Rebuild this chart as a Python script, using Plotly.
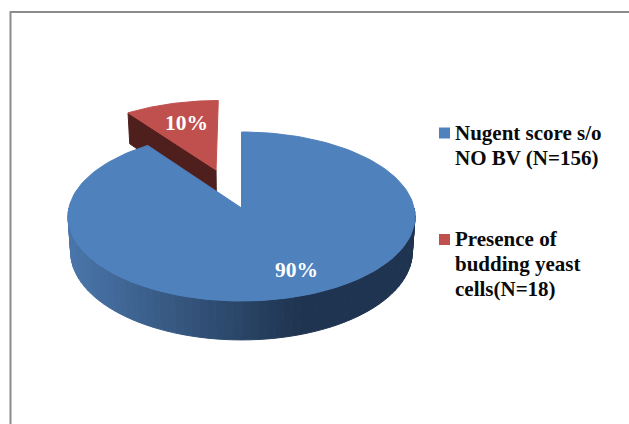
import numpy as np
import plotly.graph_objects as go

label_lines = [["Nugent score s/o", "NO BV (N=156)"], ["Presence of", "budding yeast", "cells(N=18)"]]
values = [90, 10]
pct_text = ["90%", "10%"]

BLUE = "#4F81BD"
RED = "#C0504D"
RED_DARK = "#4F1F1D"
FONT = "Liberation Serif"

# pie geometry, in pixels of the 629x424 page
CX, CY = 241.5, 208
A, B, K = 172.6, 83.65, 0.1006
DEPTH = 35
EXPLODE = 0.5


# perspective projection of the unit disc
def project(u, v, bottom=False):
    d = 1 + K * v
    x = CX + A * u / d * (0.985 if bottom else 1)
    y = CY - B * v / d + (DEPTH / d if bottom else 0)
    return x, y


def wall_colour(x):
    # side of the blue slice gets darker to the right
    t = np.clip((x - 70) / 230, 0, 1)
    c0, c1 = np.array([74, 118, 170]), np.array([31, 52, 80])
    r, g, b = (c0 + (c1 - c0) * t).astype(int)
    return f"rgb({r},{g},{b})"


def poly(xs, ys, colour):
    return go.Scatter(x=xs, y=ys, mode="lines", fill="toself", fillcolor=colour,
                      line=dict(color=colour, width=1), hoverinfo="skip", showlegend=False)


total = sum(values)
blue_end = 2 * np.pi * values[0] / total  # clockwise from 12 o'clock
blue_t = np.linspace(0, blue_end, 160)
blue_u, blue_v = np.sin(blue_t), np.cos(blue_t)

red_t = np.linspace(blue_end, 2 * np.pi, 40)
red_mid = (blue_end + 2 * np.pi) / 2
off_u, off_v = EXPLODE * np.sin(red_mid), EXPLODE * np.cos(red_mid)
red_u, red_v = off_u + np.sin(red_t), off_v + np.cos(red_t)

fig = go.Figure()

# red slice: cut face, outer corner, then top
tx, ty = project(red_u[0], red_v[0])
bx, by = project(red_u[0], red_v[0], bottom=True)
ax, ay = project(off_u, off_v)
cx, cy = project(off_u, off_v, bottom=True)
fig.add_trace(poly([tx, ax, cx, bx, tx], [ty, ay, cy, by, ty], RED_DARK))
rx, ry = project(red_u, red_v)
fig.add_trace(poly([ax, *rx, ax], [ay, *ry, ay], RED))

# blue slice: front wall as thin strips, then top
front_t = np.linspace(np.pi / 2, 3 * np.pi / 2, 71)
for t0, t1 in zip(front_t[:-1], front_t[1:]):
    ts = np.linspace(t0, t1, 4)
    x0, y0 = project(np.sin(ts), np.cos(ts))
    x1, y1 = project(np.sin(ts), np.cos(ts), bottom=True)
    fig.add_trace(poly([*x0, *x1[::-1], x0[0]], [*y0, *y1[::-1], y0[0]], wall_colour(x0.mean())))
bx, by = project(blue_u, blue_v)
fig.add_trace(poly([CX, *bx, CX], [CY, *by, CY], BLUE))

# legend squares
fig.add_trace(go.Scatter(x=[444.5, 444.5], y=[133, 239.5], mode="markers", hoverinfo="skip", showlegend=False,
                         marker=dict(symbol="square", size=11, color=[BLUE, RED])))

annotations = []
for lines, y_start in zip(label_lines, [133, 239]):
    for i, line in enumerate(lines):
        annotations.append(dict(x=453, y=y_start + 25 * i, text=f"<b>{line}</b>", xanchor="left",
                                font=dict(family=FONT, size=21, color="#0A0A0A")))
annotations += [
    dict(x=296, y=270, text=f"<b>{pct_text[0]}</b>", font=dict(family=FONT, size=21.5, color="white")),
    dict(x=186, y=123, text=f"<b>{pct_text[1]}</b>", font=dict(family=FONT, size=21.5, color="white")),
]
for a in annotations:
    a.update(xref="x", yref="y", showarrow=False)

fig.update_layout(
    width=629, height=424, margin=dict(l=0, r=0, t=0, b=0),
    paper_bgcolor="white", plot_bgcolor="white", showlegend=False,
    annotations=annotations,
    xaxis=dict(range=[0, 629], visible=False, fixedrange=True),
    yaxis=dict(range=[424, 0], visible=False, fixedrange=True),
    shapes=[dict(type="rect", xref="x", yref="y", x0=10.5, y0=12, x1=660, y1=460,
                 line=dict(color="#8C8C8C", width=2))],
)
# plotly's page keeps the browser's 8px body margin otherwise
fig.write_html("out.html", config=dict(displayModeBar=False),
               post_script="document.body.style.margin = '0';")
